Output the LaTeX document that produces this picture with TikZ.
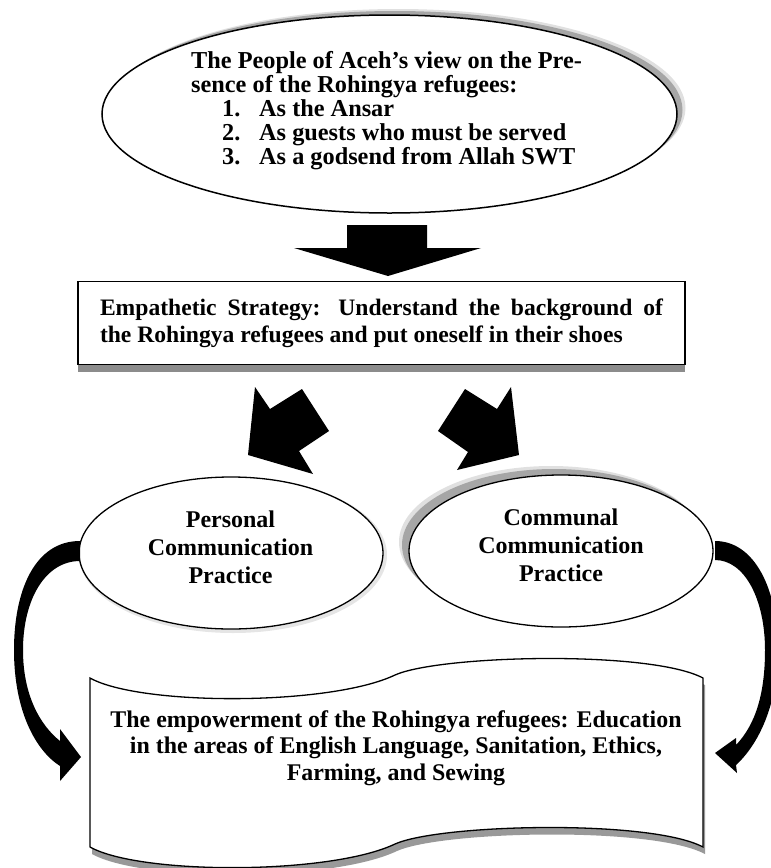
\documentclass[tikz,border=0pt]{standalone}
\usepackage{fontspec}
\setmainfont{Liberation Serif}
\usetikzlibrary{shapes.geometric}
\begin{document}
\begin{tikzpicture}[x=1pt,y=-1pt,
  ell/.style={ellipse, draw=black, line width=1.3pt, fill=white, inner sep=0pt},
  shade1/.style={ellipse, fill=black!35, draw=none, inner sep=0pt},
  shade2/.style={ellipse, fill=black!12, draw=none, inner sep=0pt},
  blockarrow/.style={fill=black, draw=none},
  txt/.style={font=\bfseries\fontsize{24}{28}\selectfont, align=center, inner sep=0pt},
]
\useasboundingbox (0,0) rectangle (771,868);

% ---------- top ellipse ----------
\node[shade2, minimum width=575pt, minimum height=198pt] (topsh2) at (398,108) {};
\node[shade1, minimum width=575pt, minimum height=198pt] (topsh1) at (395,110) {};
\node[ell, line width=1.5pt, minimum width=575pt, minimum height=198pt] (top) at (389.5,114) {};
\node[anchor=north west, inner sep=0pt, font=\bfseries\fontsize{24.3}{23.3}\selectfont] (toptext) at (191,51.2)
 {\begin{tabular}{@{}l@{}}The People of Aceh's view on the Pre-\\
  sence of the Rohingya refugees:\\
  \hspace*{31pt}\makebox[37pt][l]{1.}As the Ansar\\
  \hspace*{31pt}\makebox[37pt][l]{2.}As guests who must be served\\
  \hspace*{31pt}\makebox[37pt][l]{3.}As a godsend from Allah SWT
 \end{tabular}};

% ---------- big down arrow ----------
\fill[blockarrow] (347,225) -- (427,225) -- (427,248) -- (481,248) -- (388,276) -- (294,248) -- (347,248) -- cycle;

% ---------- strategy rectangle ----------
\node[rectangle, fill=black!45, minimum width=607pt, minimum height=83pt, inner sep=0pt] (stratsh) at (381.5,330.5) {};
\node[rectangle, draw=black, line width=1.4pt, fill=white, minimum width=607pt, minimum height=83pt,
      inner sep=0pt, text width=563pt, align=justify,
      font=\bfseries\fontsize{23.6}{26.7}\selectfont] (strategy) at (381.5,323)
 {Empathetic Strategy: Understand the background of\linebreak the Rohingya refugees and put oneself in their shoes};

% ---------- diagonal arrows ----------
\fill[blockarrow] (302,389) -- (329,431) -- (299,451) -- (313,474) -- (248,455) -- (255,387) -- (270,409) -- cycle;
\fill[blockarrow] (465,389) -- (497,409) -- (511,387) -- (519,455) -- (457,470) -- (468,452) -- (438,431) -- cycle;

% ---------- practice ellipses ----------
\node[ellipse, fill=black!10, draw=none, minimum width=308pt, minimum height=156pt] (perssh) at (233,555) {};
\node[ell, minimum width=304pt, minimum height=152pt] (pers) at (231,553) {};
\node[txt] (perstext) at (230.5,547) {Personal\\Communication\\Practice};

\node[shade2, minimum width=304pt, minimum height=152pt] (commsh2) at (551,542) {};
\node[shade1, minimum width=304pt, minimum height=152pt] (commsh1) at (554,545) {};
\node[ell, minimum width=304pt, minimum height=152pt] (comm) at (561,551) {};
\node[txt] (commtext) at (561,545) {Communal\\Communication\\Practice};

% ---------- wave (scroll) shape ----------
\fill[black!40, shift={(2,7)}] (90,678) .. controls (140,706) and (330,706) .. (395,675)
   .. controls (440,655) and (650,650) .. (703,678) -- (703,847)
   .. controls (650,819) and (440,824) .. (395,844)
   .. controls (330,875) and (140,875) .. (90,847) -- cycle;
\draw[fill=white, line width=1.3pt] (90,678) .. controls (140,706) and (330,706) .. (395,675)
   .. controls (440,655) and (650,650) .. (703,678) -- (703,847)
   .. controls (650,819) and (440,824) .. (395,844)
   .. controls (330,875) and (140,875) .. (90,847) -- cycle;
\node[txt, font=\bfseries\fontsize{23.9}{26.7}\selectfont] (empower) at (396,748)
 {The empowerment of the Rohingya refugees: Education\\in the areas of English Language, Sanitation, Ethics,\\Farming, and Sewing};

% ---------- curved arrows ----------
\begin{scope}
\clip (0,0) rectangle (771,868);
\fill[blockarrow] (80,541) .. controls (35,541) and (14,590) .. (14,650)
   .. controls (14,710) and (35,750) .. (60,766)
   -- (60,781) -- (81,757) -- (60,729) -- (60,741)
   .. controls (40,725) and (23,695) .. (23,650)
   .. controls (23,600) and (45,561) .. (80,561) -- cycle;
\fill[blockarrow] (715,541) .. controls (755,541) and (778,590) .. (778,650)
   .. controls (778,705) and (758,745) .. (736,765)
   -- (737,773) -- (715,753) -- (736,738) -- (736,745)
   .. controls (755,725) and (765,695) .. (765,650)
   .. controls (765,600) and (745,560) .. (715,560) -- cycle;
\end{scope}
\end{tikzpicture}
\end{document}
